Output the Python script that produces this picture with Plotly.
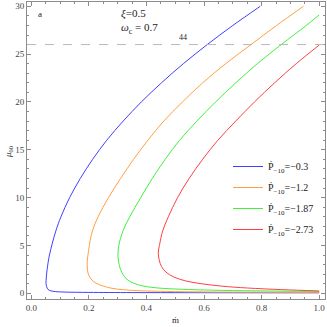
import plotly.graph_objects as go

# ---- data ----
labels = ["−0.3", "−1.2", "−1.87", "−2.73"]
colors = ["#4040ff", "#ffa040", "#40f040", "#ff4040"]

m_blue = [0.795, 0.70, 0.611, 0.528, 0.452, 0.382, 0.319, 0.262, 0.213, 0.17, 0.133, 0.103,
          0.085, 0.063, 0.055, 0.052, 0.051, 0.053, 0.058, 0.068, 0.085, 0.12, 0.2, 0.35,
          0.55, 0.75, 1.0]
mu_blue = [30.0, 28.0, 26.0, 24.0, 22.0, 20.0, 18.0, 16.0, 14.0, 12.0, 10.0, 8.0,
           6.5, 4.0, 2.5, 1.6, 1.1, 0.7, 0.4, 0.25, 0.17, 0.12, 0.09, 0.07,
           0.06, 0.05, 0.045]

m_orange = [0.945, 0.852, 0.763, 0.675, 0.595, 0.525, 0.46, 0.405, 0.355, 0.31, 0.268, 0.232,
            0.212, 0.199, 0.194, 0.197, 0.207, 0.225, 0.25, 0.28, 0.32, 0.38, 0.47, 0.6,
            0.8, 1.0]
mu_orange = [30.0, 28.0, 26.0, 24.0, 22.0, 20.0, 18.0, 16.0, 14.0, 12.0, 10.0, 8.0,
             6.5, 4.5, 3.0, 2.1, 1.5, 1.05, 0.75, 0.52, 0.37, 0.26, 0.19, 0.14,
             0.11, 0.09]

m_green = [1.0, 0.955, 0.868, 0.785, 0.71, 0.64, 0.575, 0.515, 0.465, 0.42, 0.38, 0.342,
           0.318, 0.304, 0.301, 0.305, 0.314, 0.33, 0.355, 0.39, 0.44, 0.52, 0.63,
           0.78, 1.0]
mu_green = [29.1, 28.0, 26.0, 24.0, 22.0, 20.0, 18.0, 16.0, 14.0, 12.0, 10.0, 8.0,
            6.5, 5.0, 4.0, 3.0, 2.2, 1.5, 1.05, 0.75, 0.55, 0.42, 0.32,
            0.25, 0.19]

m_red = [1.0, 0.92, 0.845, 0.775, 0.71, 0.648, 0.595, 0.548, 0.508, 0.476, 0.456, 0.445,
         0.441, 0.444, 0.452, 0.468, 0.495, 0.535, 0.59, 0.66, 0.75, 0.87, 1.0]
mu_red = [25.95, 24.0, 22.0, 20.0, 18.0, 16.0, 14.0, 12.0, 10.0, 8.0, 6.5, 5.0,
          4.3, 3.5, 2.8, 2.2, 1.7, 1.3, 1.0, 0.75, 0.55, 0.38, 0.24]

series_m = [m_blue, m_orange, m_green, m_red]
series_mu = [mu_blue, mu_orange, mu_green, mu_red]

threshold = 26
x_range = [-0.015, 1.02]
y_range = [-0.6, 30.45]

serif = "Liberation Serif"
fig = go.Figure()
for i, (m, mu, lab, col) in enumerate(zip(series_m, series_mu, labels, colors)):
    fig.add_trace(go.Scatter(
        x=m, y=mu, mode="lines", line=dict(color=col, width=1, shape="spline", smoothing=1.0),
        name="Ṗ<sub>−10</sub>=" + lab, legendgroup=f"g{i}"))

fig.add_shape(type="line", xref="paper", yref="y", x0=0, x1=1, y0=threshold, y1=threshold,
              line=dict(color="#b8b8b8", width=1, dash="dash"))

axis_common = dict(
    showgrid=False, zeroline=False, showline=True, linecolor="#8c8c8c", linewidth=1,
    mirror="ticks", ticks="inside", ticklen=4, tickcolor="#8c8c8c",
    tickfont=dict(family=serif, size=9, color="#444"), automargin=False,
)
fig.update_xaxes(range=x_range, dtick=0.2, tick0=0, tickformat=".1f",
                 minor=dict(dtick=0.05, ticks="inside", ticklen=2, tickcolor="#8c8c8c"),
                 **axis_common)
fig.update_yaxes(range=y_range, dtick=5, tick0=0,
                 minor=dict(dtick=1, ticks="inside", ticklen=2, tickcolor="#8c8c8c"),
                 **axis_common)

W, H = 327, 327
L, R, T, B = 27, 2, 2, 28
pw, ph = W - L - R, H - T - B

def pann(text, px, py, size, xanchor="center", yanchor="middle", **kw):
    fig.add_annotation(text=text, x=(px - L) / pw, y=1 - (py - T) / ph, xref="paper", yref="paper",
                       xanchor=xanchor, yanchor=yanchor, showarrow=False,
                       font=dict(family=serif, size=size, color="#222"), **kw)

pann("a", 40, 14, 9)
pann("<i>ξ</i>=0.5<br><i>ω</i><sub>c</sub> = 0.7", 119, 21, 11, xanchor="left", align="left")
pann("44", 183, 37, 8)
pann("ṁ", 175, 320, 9)
pann("<i>μ</i><sub>00</sub>", 8, 152, 9, textangle=-90)

fig.update_layout(
    width=W, height=H, margin=dict(l=L, r=R, t=T, b=B, autoexpand=False),
    paper_bgcolor="white", plot_bgcolor="white",
    showlegend=True,
    legend=dict(x=(228 - L) / pw, y=1 - (152 - T) / ph, xanchor="left", yanchor="top",
                bgcolor="rgba(0,0,0,0)", font=dict(family=serif, size=10, color="#222"),
                itemwidth=30, tracegroupgap=2),
)
fig.write_html("out.html", config={"displayModeBar": False},
               post_script="document.body.style.margin='0';document.body.style.overflow='hidden';")
